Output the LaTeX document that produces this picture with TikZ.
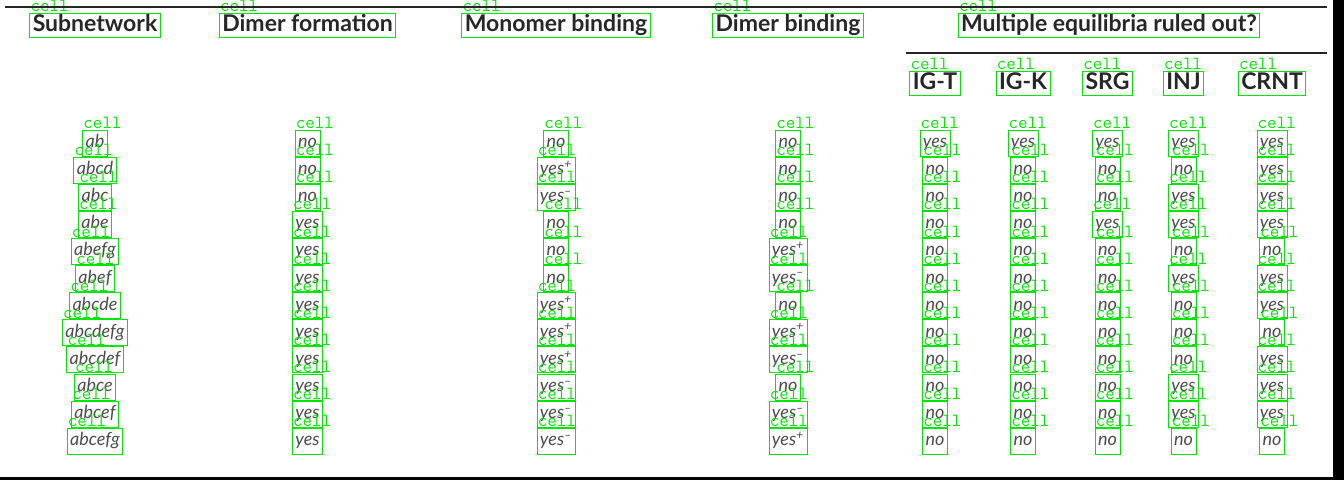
\documentclass[tikz,border=0pt]{standalone}
\usepackage{fontspec}
\setmainfont{Lato}
\usepackage{tikz}
\usetikzlibrary{positioning}

\definecolor{cellgreen}{RGB}{0,230,0}
\newcommand{\yesp}{yes\textsuperscript{+}}
\newcommand{\yesm}{yes\textsuperscript{--}}

\tikzset{
	cellbox/.style={draw=cellgreen,line width=0.8pt},
	head/.style={cellbox,font=\fontsize{23}{23}\selectfont\bfseries,text=black!85,
		inner xsep=3pt,inner ysep=2pt,text height=16pt,text depth=4pt},
	entry/.style={cellbox,font=\fontsize{18}{18}\selectfont\itshape,text=black!70,
		inner xsep=3pt,inner ysep=4.5pt,text height=13pt,text depth=4pt},
	tag/.style={text=cellgreen,font=\fontsize{18.5}{18.5}\selectfont\ttfamily,
		inner sep=0pt,anchor=base west,xshift=1pt,yshift=1pt},
	rule/.style={line width=2.2pt,black!85}
}

\begin{document}
\begin{tikzpicture}[x=1pt,y=-1pt,on grid]
	\useasboundingbox (0,0) rectangle (1344,480);
	% headers
	\node[head] (h1) at (95,25.3) {Subnetwork};
	\node[head,right=212.5pt of h1] (h2) {Dimer formation};
	\node[head,right=248.5pt of h2] (h3) {Monomer binding};
	\node[head,right=232pt of h3] (h4) {Dimer binding};
	\node[head,right=321pt of h4] (multi) {Multiple equilibria ruled out?};
	\node[head,below left=58pt and 174pt of multi] (h5) {IG-T};
	\node[head,right=88pt of h5] (h6) {IG-K};
	\node[head,right=84.5pt of h6] (h7) {SRG};
	\node[head,right=76pt of h7] (h8) {INJ};
	\node[head,right=88.5pt of h8] (h9) {CRNT};
	\foreach \h in {h1,h2,h3,h4,multi,h5,h6,h7,h8,h9}
		\node[tag] (t\h) at (\h.north west) {cell};
	% rules and frame
	\draw[rule] (5,6.7) -- (1327,6.7);
	\draw[rule] (906,53.3) -- (1327,53.3);
	\fill[black] (1333,0) rectangle (1344,480);
	\fill[black] (0,477) rectangle (1344,480);
	% table body
	\foreach \row [count=\r] in {
		{ab,no,no,no,yes,yes,yes,yes,yes},
		{abcd,no,\yesp,no,no,no,no,no,yes},
		{abc,no,\yesm,no,no,no,no,yes,yes},
		{abe,yes,no,no,no,no,yes,yes,yes},
		{abefg,yes,no,\yesp,no,no,no,no,no},
		{abef,yes,no,\yesm,no,no,no,yes,yes},
		{abcde,yes,\yesp,no,no,no,no,no,yes},
		{abcdefg,yes,\yesp,\yesp,no,no,no,no,no},
		{abcdef,yes,\yesp,\yesm,no,no,no,no,yes},
		{abce,yes,\yesm,no,no,no,no,yes,yes},
		{abcef,yes,\yesm,\yesm,no,no,no,yes,yes},
		{abcefg,yes,\yesm,\yesp,no,no,no,no,no}}{
		\pgfmathsetmacro{\y}{143+27.1*(\r-1)}
		\coordinate (rowy) at (0,\y);
		\foreach \val [count=\c] in \row {
			\node[entry] (c\r-\c) at (h\c |- rowy) {\val};
			\node[tag] (t\r-\c) at (c\r-\c.north west) {cell};
		}
	}
\end{tikzpicture}
\end{document}
